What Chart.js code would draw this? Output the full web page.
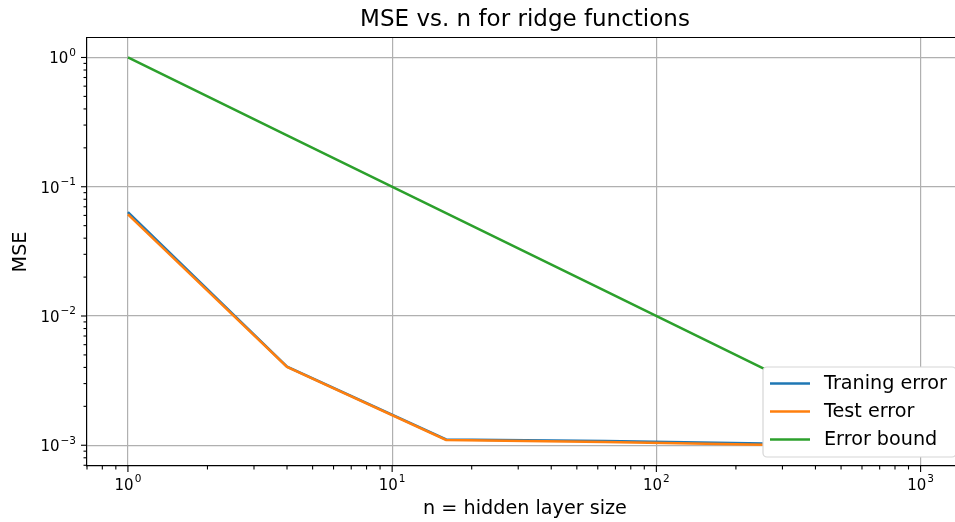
<!DOCTYPE html>
<html>
<head>
<meta charset="utf-8">
<script src="https://cdn.jsdelivr.net/npm/chart.js@4/dist/chart.umd.min.js"></script>
<style>
  html, body { margin: 0; padding: 0; background: #fff; overflow: hidden; }
  #wrap { position: relative; width: 980px; height: 522px; }
</style>
</head>
<body>
<div id="wrap"><canvas id="myChart" width="980" height="522"></canvas></div>
<script>
var layerSizes = [1, 4, 16, 64, 256, 1024];
var trainingError = [0.0637, 0.00405, 0.00111, 0.00108, 0.00103, 0.00100];
var testError = [0.0612, 0.00404, 0.00110, 0.00106, 0.00101, 0.00098];
var errorBound = [1, 0.25, 0.0625, 0.015625, 0.00390625, 0.0009765625];

var seriesNames = ["Traning error", "Test error", "Error bound"];
var seriesColors = ["#1f77b4", "#ff7f0e", "#2ca02c"];

var xMin = 0.707, xMax = 1447;
var yMin = 0.000691, yMax = 1.415;

var FONT = "'DejaVu Sans', sans-serif";
var ctx = document.getElementById("myChart").getContext("2d");

function points(xs, ys) {
  return xs.map(function (x, i) { return { x: x, y: ys[i] }; });
}

function isMajor(v) {
  var l = Math.log10(v);
  return Math.abs(l - Math.round(l)) < 1e-9;
}

// all decade ticks 1..9 x 10^k inside the axis range
function logTicks(scale) {
  var ticks = [];
  for (var k = -5; k <= 4; k++) {
    for (var m = 1; m <= 9; m++) {
      var v = m * Math.pow(10, k);
      if (v >= scale.min && v <= scale.max) ticks.push({ value: v, major: m === 1 });
    }
  }
  scale.ticks = ticks;
}

// "10" with a raised exponent, like matplotlib mathtext
function drawPow(c, v, x, baseline, align) {
  var exp = String(Math.round(Math.log10(v))).replace("-", "\u2212");
  c.font = "15px " + FONT;
  var wBase = c.measureText("10").width;
  c.font = "10.5px " + FONT;
  var wExp = c.measureText(exp).width;
  var total = wBase + 1 + wExp;
  var left = align === "center" ? x - total / 2 : x - total;
  c.textAlign = "left";
  c.textBaseline = "alphabetic";
  c.fillStyle = "#000";
  c.font = "15px " + FONT;
  c.fillText("10", left, baseline);
  c.font = "10.5px " + FONT;
  c.fillText(exp, left + wBase + 1, baseline - 7.5);
}

var framePlugin = {
  id: "frame",
  afterDraw: function (chart) {
    var c = chart.ctx, a = chart.chartArea;
    c.save();
    c.strokeStyle = "#000";
    c.lineWidth = 1.2;
    // top spine
    c.beginPath();
    c.moveTo(a.left, a.top - 0.5);
    c.lineTo(a.right, a.top - 0.5);
    c.stroke();

    // tick marks and major tick labels
    ["x", "y"].forEach(function (id) {
      var s = chart.scales[id];
      s.ticks.forEach(function (t) {
        var p = s.getPixelForValue(t.value);
        var major = isMajor(t.value);
        var len = major ? 6 : 3.5;
        c.strokeStyle = "#000";
        c.lineWidth = 1.1;
        c.beginPath();
        if (id === "x") { c.moveTo(p, a.bottom); c.lineTo(p, a.bottom + len); }
        else { c.moveTo(a.left, p); c.lineTo(a.left - len, p); }
        c.stroke();
        if (major) {
          if (id === "x") drawPow(c, t.value, p, 489.5, "center");
          else drawPow(c, t.value, 76, p + 6, "right");
        }
      });
    });

    // title
    c.fillStyle = "#000";
    c.font = "23px " + FONT;
    c.textAlign = "center";
    c.textBaseline = "middle";
    c.fillText("MSE vs. n for ridge functions", (a.left + a.right) / 2, 20);

    // legend, lower right
    var bx = 763, by = 367, bw = a.right - 7 - bx, bh = 90;
    c.fillStyle = "#fff";
    c.strokeStyle = "#d6d6d6";
    c.lineWidth = 1.2;
    c.beginPath();
    c.roundRect(bx, by, bw, bh, 4);
    c.fill();
    c.stroke();
    c.font = "19.2px " + FONT;
    c.textAlign = "left";
    c.textBaseline = "middle";
    seriesNames.forEach(function (name, i) {
      var y = 383.5 + i * 28;
      c.strokeStyle = seriesColors[i];
      c.lineWidth = 2.5;
      c.beginPath();
      c.moveTo(770, y);
      c.lineTo(810, y);
      c.stroke();
      c.fillStyle = "#000";
      c.fillText(name, 824, y + 1);
    });
    c.restore();
  }
};

function axisCommon(minV, maxV, titleText, titlePadding) {
  return {
    type: "logarithmic",
    min: minV,
    max: maxV,
    afterBuildTicks: logTicks,
    grid: {
      drawTicks: false,
      lineWidth: 1.2,
      color: function (c) { return c.tick && isMajor(c.tick.value) ? "#b0b0b0" : "rgba(0,0,0,0)"; }
    },
    border: { display: true, color: "#000", width: 1.2 },
    ticks: {
      autoSkip: false,
      maxRotation: 0,
      font: { family: FONT, size: 15 },
      callback: function () { return ""; }
    },
    title: {
      display: true,
      text: titleText,
      color: "#000",
      font: { family: FONT, size: 19.2 },
      padding: titlePadding
    }
  };
}

var xAxis = axisCommon(xMin, xMax, "n = hidden layer size", { top: 0, bottom: 1.5 });
xAxis.afterFit = function (s) { s.height = 56; };

var yAxis = axisCommon(yMin, yMax, "MSE", { top: 9.5, bottom: 0 });
yAxis.afterFit = function (s) { s.width = 87; };

var chart = new Chart(ctx, {
  type: "line",
  data: {
    datasets: [
      { label: seriesNames[0], data: points(layerSizes, trainingError), borderColor: seriesColors[0], order: 3 },
      { label: seriesNames[1], data: points(layerSizes, testError), borderColor: seriesColors[1], order: 2 },
      { label: seriesNames[2], data: points(layerSizes, errorBound), borderColor: seriesColors[2], order: 1 }
    ]
  },
  options: {
    responsive: false,
    animation: false,
    layout: { padding: { top: 38, right: 17, left: 0, bottom: 0 } },
    elements: {
      point: { radius: 0 },
      line: { borderWidth: 2.5, tension: 0, fill: false }
    },
    plugins: {
      legend: { display: false },
      tooltip: { enabled: false },
      title: { display: false }
    },
    scales: { x: xAxis, y: yAxis }
  },
  plugins: [framePlugin]
});
</script>
</body>
</html>
